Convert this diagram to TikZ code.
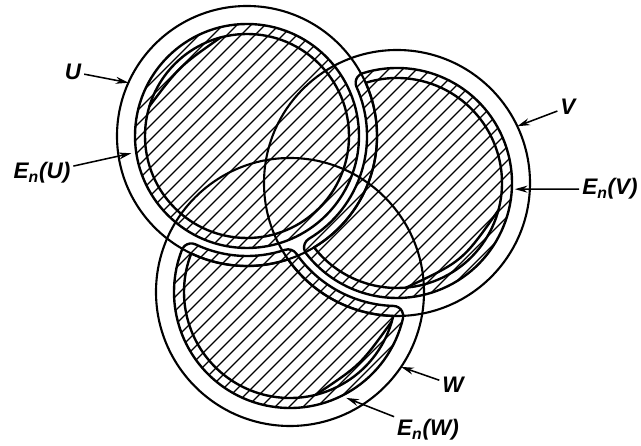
\documentclass[tikz,border=0pt]{standalone}
\usepackage{fontspec}
\setsansfont{Liberation Sans}
\usepackage{tikz}
\usetikzlibrary{arrows.meta}

\tikzset{
  circ/.style={draw=black, line width=1.5pt},
  band/.style={draw=black, line width=1.7pt, line join=round},
  hatch/.style={draw=black, line width=0.9pt},
  lbl/.style={font=\sffamily\bfseries\itshape\fontsize{16}{19}\selectfont, inner sep=2pt},
  ptr/.style={-{Stealth[length=9pt,width=5pt]}, line width=1.1pt}
}

% T_n = shrunk set minus earlier sets, E_n = thin neighbourhood of T_n
\newcommand{\pathTnU}{(cU) circle[radius=102]}
\newcommand{\pathEnU}{(cU) circle[radius=112]}
\newcommand{\pathTnV}{([shift={(cV)}]107.39:105)
  arc[start angle=107.39, end angle=-142.18, radius=105]
  arc[start angle=-58.96, end angle=24.16, radius=130] -- cycle}
\newcommand{\pathEnV}{([shift={(cV)}]107.39:115)
  arc[start angle=107.39, end angle=-142.18, radius=115]
  arc[start angle=217.82, end angle=121.04, radius=10]
  arc[start angle=-58.96, end angle=24.16, radius=120]
  arc[start angle=204.16, end angle=107.39, radius=10] -- cycle}
\newcommand{\pathTnW}{([shift={(cW)}]-13.05:106)
  arc[start angle=-13.05, end angle=-201.33, radius=106]
  arc[start angle=-115.40, end angle=-71.58, radius=130]
  arc[start angle=-144.97, end angle=-91.62, radius=133] -- cycle}
\newcommand{\pathEnW}{([shift={(cW)}]-13.05:116)
  arc[start angle=-13.05, end angle=-201.33, radius=116]
  arc[start angle=158.67, end angle=64.60, radius=10]
  arc[start angle=-115.40, end angle=-71.58, radius=120]
  arc[start angle=108.42, end angle=35.03, radius=10]
  arc[start angle=-144.97, end angle=-91.62, radius=123]
  arc[start angle=88.38, end angle=-13.05, radius=10] -- cycle}
\newcommand{\hatchlines}{\foreach \c in {-450,-436,...,530}
  \draw[hatch] (\c,0) -- ++(470,470);}

\begin{document}
\begin{tikzpicture}[x=0.025cm, y=0.025cm]
  \fill[white] (0,0) rectangle (641,446);
  \useasboundingbox (0,0) rectangle (641,446);

  % centres of the three open sets
  \coordinate (cU) at (247,310);
  \coordinate (cV) at (397,263);
  \coordinate (cW) at (290,154);

  % hatching of E_n(U), E_n(V), E_n(W)
  \begin{scope}
    \clip \pathEnU;
    \hatchlines
  \end{scope}
  \begin{scope}
    \clip \pathEnV;
    \hatchlines
  \end{scope}
  \begin{scope}
    \clip \pathEnW;
    \hatchlines
  \end{scope}

  % outlines of the bands
  \draw[band] \pathEnU;
  \draw[band] \pathTnU;
  \draw[band] \pathEnV;
  \draw[band] \pathTnV;
  \draw[band] \pathEnW;
  \draw[band] \pathTnW;

  % inner crescents
  \draw[band] ([shift={(cU)}]163:102) .. controls ([shift={(cU)}]134:97) .. ([shift={(cU)}]105:102);
  \draw[band] ([shift={(cV)}]-15:105) .. controls ([shift={(cV)}]-50:102) .. ([shift={(cV)}]-85:105);
  \draw[band] ([shift={(cW)}]-16:106) .. controls ([shift={(cW)}]-46:101.4) .. ([shift={(cW)}]-76:106);

  % the sets U, V, W
  \draw[circ] (cU) circle[radius=130];
  \draw[circ] (cV) circle[radius=133];
  \draw[circ] (cW) circle[radius=134];

  % labels
  \node[lbl] (labU) at (73,374) {U};
  \node[lbl] (labEU) at (42,273) {E\textsubscript{n}(U)};
  \node[lbl] (labV) at (568,339) {V};
  \node[lbl] (labEV) at (610,257) {E\textsubscript{n}(V)};
  \node[lbl] (labW) at (453,61) {W};
  \node[lbl] (labEW) at (428,16) {E\textsubscript{n}(W)};

  \coordinate (tipU) at ([shift={(cU)}]155.8:130);
  \coordinate (tipEU) at ([shift={(cU)}]188.5:117);
  \coordinate (tipV) at ([shift={(cV)}]25.25:133);
  \coordinate (tipEV) at ([shift={(cV)}]-3:118);
  \coordinate (tipW) at ([shift={(cW)}]-34:134);
  \coordinate (tipEW) at ([shift={(cW)}]-62:120);

  \draw[ptr] (labU) -- (tipU);
  \draw[ptr] (labEU) -- (tipEU);
  \draw[ptr] (labV) -- (tipV);
  \draw[ptr] (labEV) -- (tipEV);
  \draw[ptr] (labW) -- (tipW);
  \draw[ptr] (labEW) -- (tipEW);
\end{tikzpicture}
\end{document}
